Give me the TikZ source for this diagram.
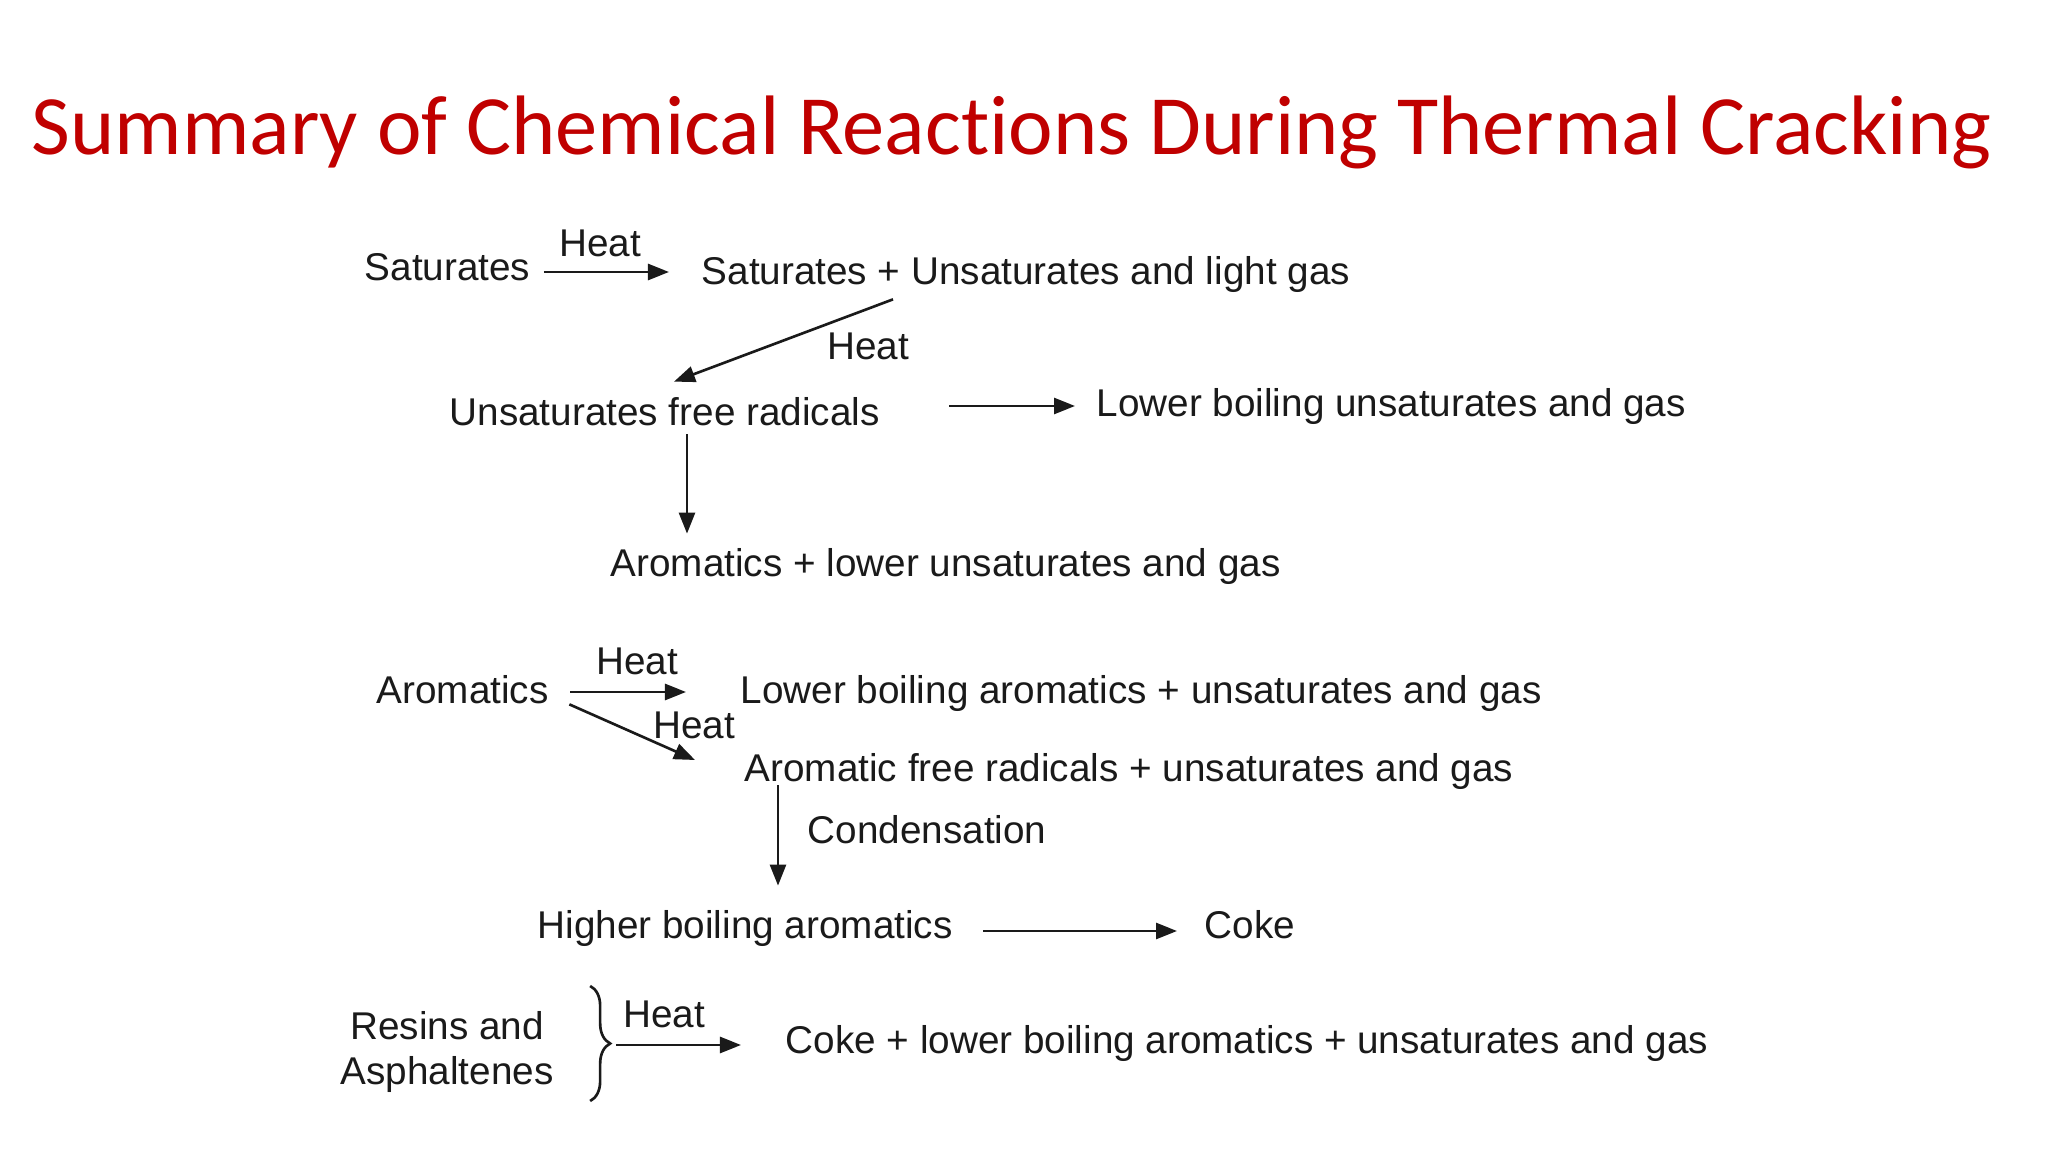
\documentclass[tikz,border=0pt]{standalone}
\usepackage{fontspec}
\setmainfont{Liberation Sans}
\newfontfamily\titlefont[Ligatures={NoCommon,NoRequired,NoContextual}]{Carlito}
\usetikzlibrary{arrows.meta,calc,decorations.pathreplacing}
\definecolor{titlered}{HTML}{C00000}
\definecolor{ink}{HTML}{1A1A1A}
\begin{document}
\begin{tikzpicture}[x=0.01cm,y=-0.01cm,
  lbl/.style={anchor=west,inner sep=0pt,text height=0.72em,text depth=0pt,
    font=\fontsize{11}{13}\selectfont,text=ink},
  heatlbl/.style={lbl,anchor=center},
  arr/.style={draw=ink,line width=0.75pt,-{Triangle[length=2.1mm,width=1.6mm]}}]
\useasboundingbox[fill=white] (0,0) rectangle (2048,1152);
\node[anchor=base west,inner sep=0pt,text=titlered,font=\titlefont\fontsize{24}{28}\selectfont]
  (title) at (31,155) {Summary of Chemical Reactions During Thermal Cracking};

% saturates
\node[lbl] (sat) at (364,268) {Saturates};
\node[heatlbl] (heatA) at (600,244) {Heat};
\node[lbl] (su) at (701,272) {Saturates + Unsaturates and light gas};
\node[heatlbl] (heatB) at (868,347) {Heat};
\node[lbl] (ufr) at (449,413) {Unsaturates free radicals};
\node[lbl] (lbu) at (1096,404) {Lower boiling unsaturates and gas};
\node[lbl] (alu) at (610,564) {Aromatics + lower unsaturates and gas};

\draw[arr] ($(sat.east)+(13,4)$) -- ($(su.west)+(-32,0)$);
\draw[arr] ($(su.south west)+(192,14)$) -- ($(ufr.north west)+(225,-18)$);
\draw[arr] ($(ufr.east)+(69,-7)$) -- ($(lbu.west)+(-21,2)$);
\draw[arr] ($(ufr.south west)+(238,8)$) -- ($(alu.north west)+(77,-17)$);

% aromatics
\node[lbl] (aro) at (376,691) {Aromatics};
\node[heatlbl] (heatC) at (637,662) {Heat};
\node[lbl] (lba) at (740,691) {Lower boiling aromatics + unsaturates and gas};
\node[heatlbl] (heatD) at (694,726) {Heat};
\node[lbl] (afr) at (744,769) {Aromatic free radicals + unsaturates and gas};
\node[lbl] (cond) at (807,831) {Condensation};
\node[lbl] (hba) at (537,926) {Higher boiling aromatics};
\node[lbl] (coke) at (1204,926) {Coke};

\draw[arr] ($(aro.east)+(21,1)$) -- ($(lba.west)+(-54,1)$);
\draw[arr] ($(aro.south east)+(20,0)$) -- ($(afr.west)+(-49,-9)$);
\draw[arr] ($(afr.south west)+(34,3)$) -- ($(hba.north west)+(241,-27)$);
\draw[arr] ($(hba.east)+(30,5)$) -- ($(coke.west)+(-27,5)$);

% resins
\node[inner sep=0pt,align=center,font=\fontsize{11}{13}\selectfont,text=ink]
  (res) at (447,1052) {Resins and\\Asphaltenes};
\node[heatlbl] (heatE) at (664,1015) {Heat};
\node[lbl] (clb) at (785,1041) {Coke + lower boiling aromatics + unsaturates and gas};
\coordinate (bt) at ($(res.east)+(36,-66)$);
\coordinate (bb) at ($(res.east)+(36,49)$);
\draw[ink,line width=0.75pt,decorate,decoration={brace,amplitude=2mm}] (bt) -- (bb);
\draw[arr] ($(res.east)+(62,-7)$) -- ($(clb.west)+(-44,4)$);
\end{tikzpicture}
\end{document}
